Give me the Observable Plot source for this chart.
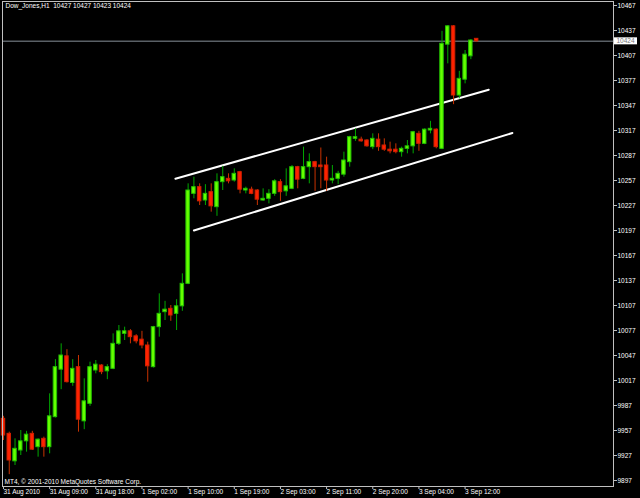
<!DOCTYPE html>
<html><head><meta charset="utf-8">
<script src="https://cdn.jsdelivr.net/npm/d3@7"></script>
<script src="https://cdn.jsdelivr.net/npm/@observablehq/plot@0.6"></script>
<style>html,body{margin:0;padding:0;background:#000;} #chart{width:640px;height:498px;overflow:hidden}</style>
</head><body><div id="chart"></div>
<script>
const symbolTitle = "Dow_Jones,H1  10427 10427 10423 10424";
const copyright = "MT4, © 2001-2010 MetaQuotes Software Corp.";

const opens  = [9971,9953,9920,9933,9944,9953,9937,9947,9937,9973,10030,10046,10014,10033,9968,9989,10029,10035,10028,10031,10061,10073,10076,10070,10066,10059,10033,10081,10099,10103,10097,10106,10133,10241,10249,10233,10243,10225,10255,10259,10257,10267,10245,10246,10245,10233,10235,10241,10255,10244,10247,10273,10259,10273,10279,10275,10275,10257,10259,10264,10279,10307,10306,10305,10297,10306,10299,10294,10294,10291,10295,10298,10313,10301,10317,10318,10295,10420,10442,10359,10378,10406,10427];
const highs  = [9974,9955,9947,9957,9956,9956,9947,9949,10001,10042,10061,10054,10042,10047,10019,10039,10041,10036,10036,10073,10083,10081,10078,10072,10076,10063,10082,10121,10112,10107,10114,10145,10253,10261,10253,10252,10253,10265,10274,10265,10271,10268,10249,10249,10246,10247,10246,10258,10258,10271,10275,10274,10297,10289,10280,10296,10285,10275,10268,10291,10310,10319,10309,10306,10313,10313,10307,10303,10301,10297,10305,10316,10316,10319,10328,10319,10436,10443,10443,10388,10413,10426,10427];
const lows   = [9945,9904,9915,9927,9931,9933,9925,9925,9929,9972,10006,10014,10010,9955,9958,9986,10025,10024,10018,10030,10059,10065,10061,10061,10055,10015,10032,10069,10089,10088,10077,10100,10132,10235,10227,10227,10219,10214,10245,10253,10255,10241,10241,10240,10227,10232,10229,10238,10232,10238,10246,10247,10258,10253,10244,10247,10244,10253,10252,10261,10273,10304,10303,10297,10294,10292,10292,10289,10289,10285,10289,10289,10292,10300,10313,10295,10294,10397,10348,10355,10373,10402,10423];
const closes = [9951,9921,9935,9944,9952,9934,9946,9937,9974,10033,10047,10015,10031,9970,9992,10033,10036,10027,10033,10061,10076,10076,10069,10064,10059,10034,10081,10097,10102,10095,10106,10133,10245,10249,10232,10241,10226,10255,10261,10256,10265,10246,10247,10241,10234,10235,10241,10256,10243,10250,10273,10258,10273,10279,10273,10273,10257,10259,10265,10281,10309,10309,10304,10298,10307,10297,10294,10292,10291,10295,10298,10315,10301,10318,10319,10297,10421,10442,10359,10379,10408,10425,10424];

const timeTickBars   = [0, 8, 16, 24, 32, 40, 48, 56, 64, 72, 80];
const timeTickLabels = ["31 Aug 2010","31 Aug 09:00","31 Aug 18:00","1 Sep 02:00","1 Sep 10:00","1 Sep 19:00","2 Sep 03:00","2 Sep 11:00","2 Sep 20:00","3 Sep 04:00","3 Sep 12:00"];
const priceTicks = [9897,9927,9957,9987,10017,10047,10077,10107,10137,10167,10197,10227,10257,10287,10317,10347,10377,10407,10437,10467];
const bidPrice = 10424;
const upperChannel = [{bar: 29.8, price: 10259}, {bar: 84.1, price: 10366}];
const lowerChannel = [{bar: 33.0, price: 10197}, {bar: 88.2, price: 10314}];

const candles = opens.map((o, i) => ({i, o, h: highs[i], l: lows[i], c: closes[i], up: closes[i] >= o}));

const FONT = "Liberation Sans, Arial, sans-serif";

function bidBox(index, scales, values, dimensions) {
  const y = scales.y(bidPrice);
  const x = dimensions.width - dimensions.marginRight + 1;
  const g = d3.create("svg:g");
  g.append("rect").attr("x", x).attr("y", y - 3.5).attr("width", 23).attr("height", 7).attr("fill", "#fff");
  g.append("text").attr("x", x + 11.5).attr("y", y).attr("dy", "0.35em")
    .attr("text-anchor", "middle").attr("fill", "#777").attr("font-family", FONT).attr("font-size", "6.5px")
    .text(String(bidPrice));
  return g.node();
}

const chart = Plot.plot({
  width: 640, height: 498,
  marginLeft: 2, marginRight: 27, marginTop: 1, marginBottom: 12,
  style: {background: "#000", color: "#fff", fontFamily: FONT, fontSize: "6.5px"},
  x: {type: "linear", domain: [-0.17, 105.72]},
  y: {domain: [9889.8, 10471.8]},
  marks: [
    Plot.ruleY([bidPrice], {stroke: "#5a6066", strokeWidth: 1.5}),
    Plot.line(upperChannel, {x: "bar", y: "price", stroke: "#fff", strokeWidth: 2}),
    Plot.line(lowerChannel, {x: "bar", y: "price", stroke: "#fff", strokeWidth: 2}),
    Plot.ruleX(candles, {x: "i", y1: "l", y2: "h", stroke: d => d.up ? "#00a800" : "#c83200", strokeWidth: 1}),
    Plot.rect(candles, {x1: d => d.i - 0.3, x2: d => d.i + 0.3, y1: "o", y2: "c",
      fill: d => d.up ? "#66ff00" : "#ff2200", stroke: d => d.up ? "#22c000" : "#d02000", strokeWidth: 1}),
    Plot.frame({stroke: "#c0c0c0"}),
    Plot.axisY(priceTicks, {anchor: "right", tickSize: 3, tickPadding: 1, stroke: "#c0c0c0", fill: "#fff", tickFormat: d => String(d)}),
    Plot.axisX(timeTickBars, {anchor: "bottom", tickSize: 3, tickPadding: 0, textAnchor: "start", stroke: "#c0c0c0", fill: "#fff",
      tickFormat: d => timeTickLabels[timeTickBars.indexOf(d)]}),
    Plot.text([symbolTitle], {frameAnchor: "top-left", dx: 3, dy: 2, fill: "#fff", text: d => d}),
    Plot.text([copyright], {frameAnchor: "bottom-left", dx: 2, dy: -2.5, fill: "#fff", text: d => d}),
    bidBox
  ]
});
document.getElementById("chart").appendChild(chart);
</script>
</body></html>
